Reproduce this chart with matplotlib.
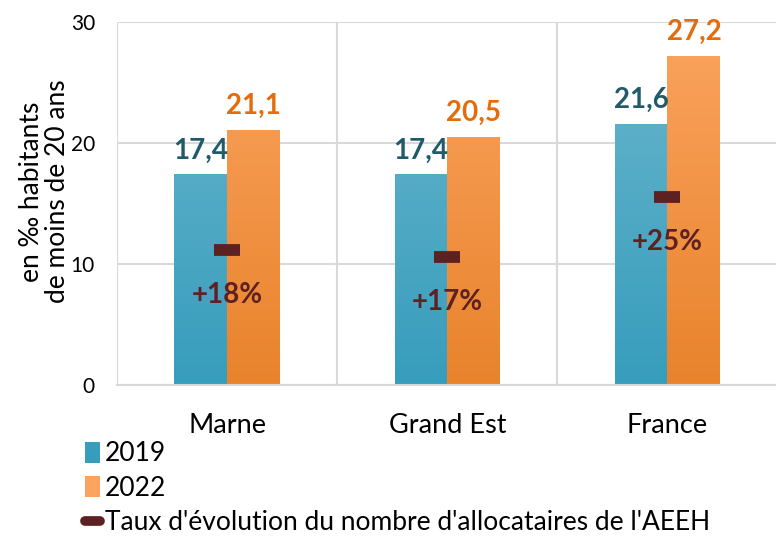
import matplotlib.pyplot as plt
import numpy as np
from matplotlib.colors import LinearSegmentedColormap
from matplotlib.lines import Line2D
from matplotlib.patches import Patch

plt.rcParams['font.family'] = ['Lato', 'DejaVu Sans']

categories = ['Marne', 'Grand Est', 'France']
v2019 = [17.4, 17.4, 21.6]
v2022 = [21.1, 20.5, 27.2]
evol = [18, 17, 25]
labels_2019 = ['17,4', '17,4', '21,6']
labels_2022 = ['21,1', '20,5', '27,2']
labels_evol = ['+18%', '+17%', '+25%']

blue_top, blue_bot = '#6ab6cd', '#379dbc'
orange_top, orange_bot = '#fba45f', '#e8832c'
dark = '#5e2121'

fig = plt.figure(figsize=(7.76, 5.37), dpi=100)
ax = fig.add_axes([0.151, 0.283, 0.851, 0.676])
x = np.arange(len(categories))
w = 0.24

def gradient_bars(xpos, vals, top, bot):
    bars = ax.bar(xpos, vals, w, color='none', edgecolor='none')
    cmap = LinearSegmentedColormap.from_list('g', [bot, top])
    grad = np.linspace(0, 1, 256).reshape(-1, 1)
    for b in bars:
        x0 = b.get_x()
        im = ax.imshow(grad, cmap=cmap, origin='lower', aspect='auto',
                       extent=[x0, x0 + b.get_width(), 0, 30], zorder=2)
        im.set_clip_path(b)
    return bars

b1 = gradient_bars(x - w / 2, v2019, blue_top, blue_bot)
b2 = gradient_bars(x + w / 2, v2022, orange_top, orange_bot)

for xi, v, t in zip(x - w / 2, v2019, labels_2019):
    ax.annotate(t, (xi, v), xytext=(0, 8), textcoords='offset points',
                ha='center', va='bottom', fontsize=20, fontweight='bold', color='#215a69')
for xi, v, t in zip(x + w / 2, v2022, labels_2022):
    ax.annotate(t, (xi, v), xytext=(0, 8), textcoords='offset points',
                ha='center', va='bottom', fontsize=20, fontweight='bold', color='#e46c0a')

ax.set_xlim(-0.5, 2.5)
ax.set_ylim(0, 30)
ax.set_yticks([0, 10, 20, 30])
ax.set_xticks(x)
ax.set_xticklabels(categories, fontsize=19.5)
ax.tick_params(axis='both', length=0)
ax.tick_params(axis='y', labelsize=15, pad=16)
ax.tick_params(axis='x', pad=20)
ax.set_ylabel('en ‰ habitants\nde moins de 20 ans', fontsize=19, va='center',
              linespacing=1.05)
ax.yaxis.set_label_coords(-0.11, 0.533)
for s in ax.spines.values():
    s.set_visible(False)
ax.spines['bottom'].set_visible(True)
ax.spines['bottom'].set_color('#d9d9d9')
ax.spines['bottom'].set_linewidth(1.5)
ax.grid(axis='y', color='#d9d9d9', lw=1.5, zorder=0)
for xb in [-0.5, 0.5, 1.5, 2.5]:
    ax.axvline(xb, color='#d9d9d9', lw=1.5, zorder=0)
ax.set_axisbelow(True)

ax2 = ax.twinx()
ax2.set_ylim(0, 48.3)
ax2.axis('off')
ax2.plot(x, evol, ls='none', marker='_', ms=19, mew=8.5, color=dark, zorder=5)
for xi, v, t in zip(x, evol, labels_evol):
    ax2.annotate(t, (xi, v), xytext=(0, -23), textcoords='offset points',
                 ha='center', va='top', fontsize=20, fontweight='bold', color=dark)

handles = [Patch(facecolor=blue_bot, edgecolor='none'),
           Patch(facecolor=orange_top, edgecolor='none'),
           Line2D([], [], color=dark, lw=7, solid_capstyle='round')]
fig.legend(handles, ['2019', '2022', "Taux d'évolution du nombre d'allocataires de l'AEEH"],
           loc='upper left', bbox_to_anchor=(0.11, 0.178), frameon=False,
           fontsize=19, handlelength=0.55, handleheight=0.85, handletextpad=0.2,
           labelspacing=0.36, borderpad=0, borderaxespad=0)

fig.savefig('out.png', dpi=100)
